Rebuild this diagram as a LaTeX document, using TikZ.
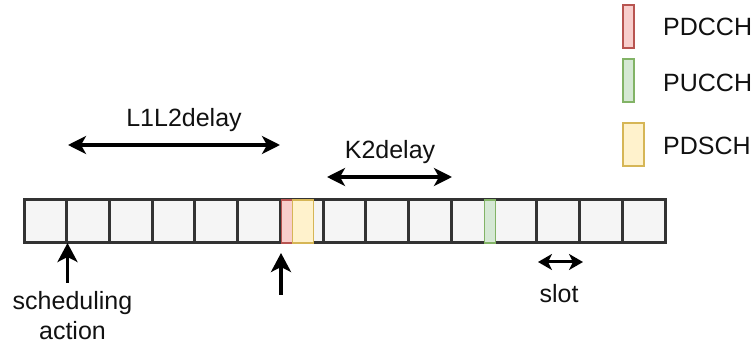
\documentclass[tikz,border=0pt]{standalone}
\usepackage{fontspec}
\setmainfont{Liberation Sans}
\usetikzlibrary{arrows.meta}
\definecolor{slotfill}{HTML}{F5F5F5}
\definecolor{slotline}{HTML}{333333}
\definecolor{redfill}{HTML}{F8CECC}
\definecolor{redline}{HTML}{B85450}
\definecolor{greenfill}{HTML}{D5E8D4}
\definecolor{greenline}{HTML}{82B366}
\definecolor{yellowfill}{HTML}{FFF2CC}
\definecolor{yellowline}{HTML}{D6B656}
\definecolor{txt}{HTML}{111111}
\begin{document}
\begin{tikzpicture}[x=1pt,y=-1pt,
  slotbox/.style={draw=slotline, fill=slotfill, line width=3pt, minimum width=42.733pt, minimum height=43pt, inner sep=0pt, outer sep=0pt},
  chan/.style={line width=1.4pt, minimum height=43pt, inner sep=0pt, outer sep=0pt},
  chred/.style={chan, draw=redline, fill=redfill},
  chgreen/.style={chan, draw=greenline, fill=greenfill},
  chyellow/.style={chan, draw=yellowline, fill=yellowfill},
  lbl/.style={text=txt, inner sep=0pt, font=\fontsize{25}{30}\selectfont},
  bigtip/.style={-{Stealth[length=19pt, width=20pt, inset=5pt]}, line width=3.3pt},
  dbltip/.style={{Stealth[length=18pt, width=18pt, inset=5pt]}-{Stealth[length=18pt, width=18pt, inset=5pt]}, line width=3.3pt},
  smalltip/.style={{Stealth[length=14pt, width=16pt, inset=4pt]}-{Stealth[length=14pt, width=16pt, inset=4pt]}, line width=3pt}
]
\useasboundingbox (0,0) rectangle (755,347);

% slots
\foreach \i in {1,...,15}
  \node[slotbox] (s\i) at ({24+42.733*(\i-0.5)},221.5) {};

% channels in the slots
\node[chred, minimum width=10.5pt] (pdcch) at (287,221.5) {};
\node[chyellow, minimum width=21pt] (pdsch) at (302.7,221.5) {};
\node[chgreen, minimum width=11pt] (pucch) at (489.8,221.5) {};

% legend
\node[chred, minimum width=11pt] (lgred) at (628.5,26.5) {};
\node[chgreen, minimum width=11pt] (lggreen) at (628.5,80.5) {};
\node[chyellow, minimum width=21pt] (lgyellow) at (633.5,144.5) {};
\node[lbl, anchor=base west] (tpdcch) at (663,36) {PDCCH};
\node[lbl, anchor=base west] (tpucch) at (663,92) {PUCCH};
\node[lbl, anchor=base west] (tpdsch) at (663,155) {PDSCH};

% L1L2 delay
\coordinate (la) at (68,145);
\coordinate (lb) at (280,145);
\draw[dbltip] (la) -- (lb);
\node[lbl, anchor=base] (tl1) at (184,127) {L1L2delay};

% K2 delay
\coordinate (ka) at (327,177);
\coordinate (kb) at (452,177);
\draw[dbltip] (ka) -- (kb);
\node[lbl, anchor=base] (tk2) at (390,158.5) {K2delay};

% scheduling action arrow
\coordinate (a1) at (67.5,283);
\draw[bigtip] (a1) -- (a1 |- s1.south);
\node[lbl, anchor=base, align=center] (tsched) at (72.5,340) {scheduling\\action};

% second arrow
\coordinate (a2) at (281,295);
\coordinate (a2t) at (281,253);
\draw[bigtip] (a2) -- (a2t);

% slot arrow
\coordinate (sa) at (538,262);
\coordinate (sb) at (583,262);
\draw[smalltip] (sa) -- (sb);
\node[lbl, anchor=base] (tslot) at (559,303) {slot};
\end{tikzpicture}
\end{document}
